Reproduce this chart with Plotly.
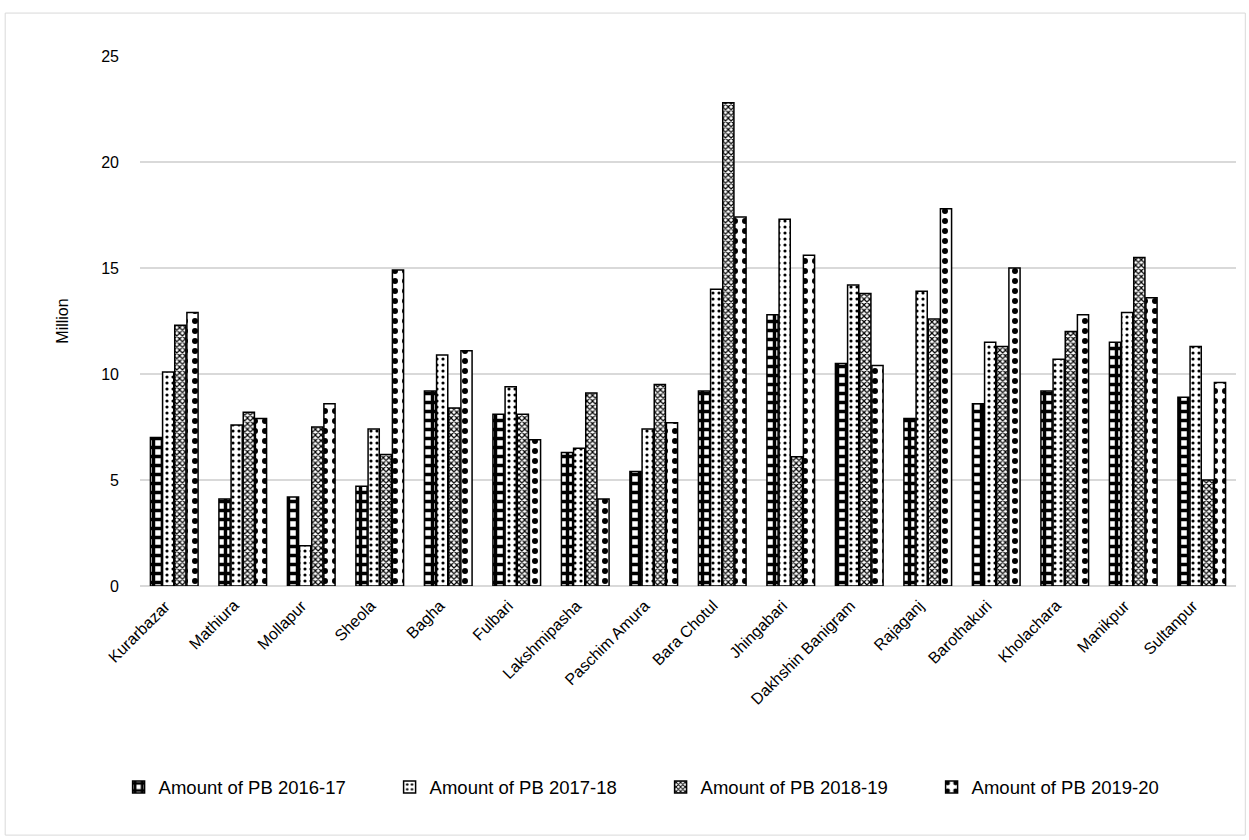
import plotly.graph_objects as go

# Unions and their participatory budget amounts (million)
unions = ["Kurarbazar", "Mathiura", "Mollapur", "Sheola", "Bagha", "Fulbari",
          "Lakshmipasha", "Paschim Amura", "Bara Chotul", "Jhingabari",
          "Dakhshin Banigram", "Rajaganj", "Barothakuri", "Kholachara",
          "Manikpur", "Sultanpur"]

pb_2016_17 = [7.0, 4.1, 4.2, 4.7, 9.2, 8.1, 6.3, 5.4, 9.2, 12.8, 10.5, 7.9, 8.6, 9.2, 11.5, 8.9]
pb_2017_18 = [10.1, 7.6, 1.9, 7.4, 10.9, 9.4, 6.5, 7.4, 14.0, 17.3, 14.2, 13.9, 11.5, 10.7, 12.9, 11.3]
pb_2018_19 = [12.3, 8.2, 7.5, 6.2, 8.4, 8.1, 9.1, 9.5, 22.8, 6.1, 13.8, 12.6, 11.3, 12.0, 15.5, 5.0]
pb_2019_20 = [12.9, 7.9, 8.6, 14.9, 11.1, 6.9, 4.1, 7.7, 17.4, 15.6, 10.4, 17.8, 15.0, 12.8, 13.6, 9.6]

series_names = ["Amount of PB 2016-17", "Amount of PB 2017-18",
                "Amount of PB 2018-19", "Amount of PB 2019-20"]
series_values = [pb_2016_17, pb_2017_18, pb_2018_19, pb_2019_20]

patterns = [
    dict(shape="+", fgcolor="black", bgcolor="white", size=9, solidity=0.62, fillmode="replace"),
    dict(shape=".", fgcolor="black", bgcolor="white", size=6, solidity=0.22, fillmode="replace"),
    dict(shape="x", fgcolor="black", bgcolor="white", size=4, solidity=0.5, fillmode="replace"),
    dict(shape=".", fgcolor="black", bgcolor="white", size=10, solidity=0.28, fillmode="replace"),
]

fig = go.Figure()
for name, vals, pat in zip(series_names, series_values, patterns):
    fig.add_trace(go.Bar(
        x=unions, y=vals, name=name,
        marker=dict(color="white", pattern=pat,
                    line=dict(color="black", width=1.5)),
    ))

font_family = "Liberation Sans, Arial, sans-serif"

# Category labels: rotated text whose upper-right end sits under each group
label_annotations = [
    dict(x=u, y=0, xref="x", yref="y", text=u, showarrow=False,
         textangle=-45, xanchor="right", yanchor="top", yshift=-8, xshift=2,
         font=dict(size=16, family=font_family, color="black"))
    for u in unions
]

fig.update_layout(
    width=1249, height=840,
    margin=dict(l=140, r=13, t=56, b=254),
    paper_bgcolor="white", plot_bgcolor="white",
    barmode="group", bargap=0.29, bargroupgap=0.08,
    font=dict(family=font_family, size=16, color="black"),
    showlegend=True,
    legend=dict(orientation="h", x=0.475, xanchor="center", y=-0.38, yanchor="middle",
                font=dict(size=18.5, family=font_family), itemwidth=30,
                entrywidth=226, entrywidthmode="pixels", tracegroupgap=0),
    xaxis=dict(range=[-0.5, len(unions) - 0.5], autorange=False,
               showticklabels=False, showgrid=False, ticks="", showline=False),
    yaxis=dict(range=[0, 25], dtick=5, showgrid=True, gridcolor="#d9d9d9",
               gridwidth=1.5, zeroline=True, zerolinecolor="#d9d9d9",
               zerolinewidth=1.5, ticks="", tickfont=dict(size=16),
               ticklabelstandoff=20,
               title=dict(text="Million", font=dict(size=16), standoff=28)),
    annotations=label_annotations,
    shapes=[dict(type="rect", xref="paper", yref="paper",
                 x0=-0.123, x1=1.0085, y0=-0.47, y1=1.081,
                 line=dict(color="#d9d9d9", width=1), layer="below")],
)

fig.write_html("out.html")
